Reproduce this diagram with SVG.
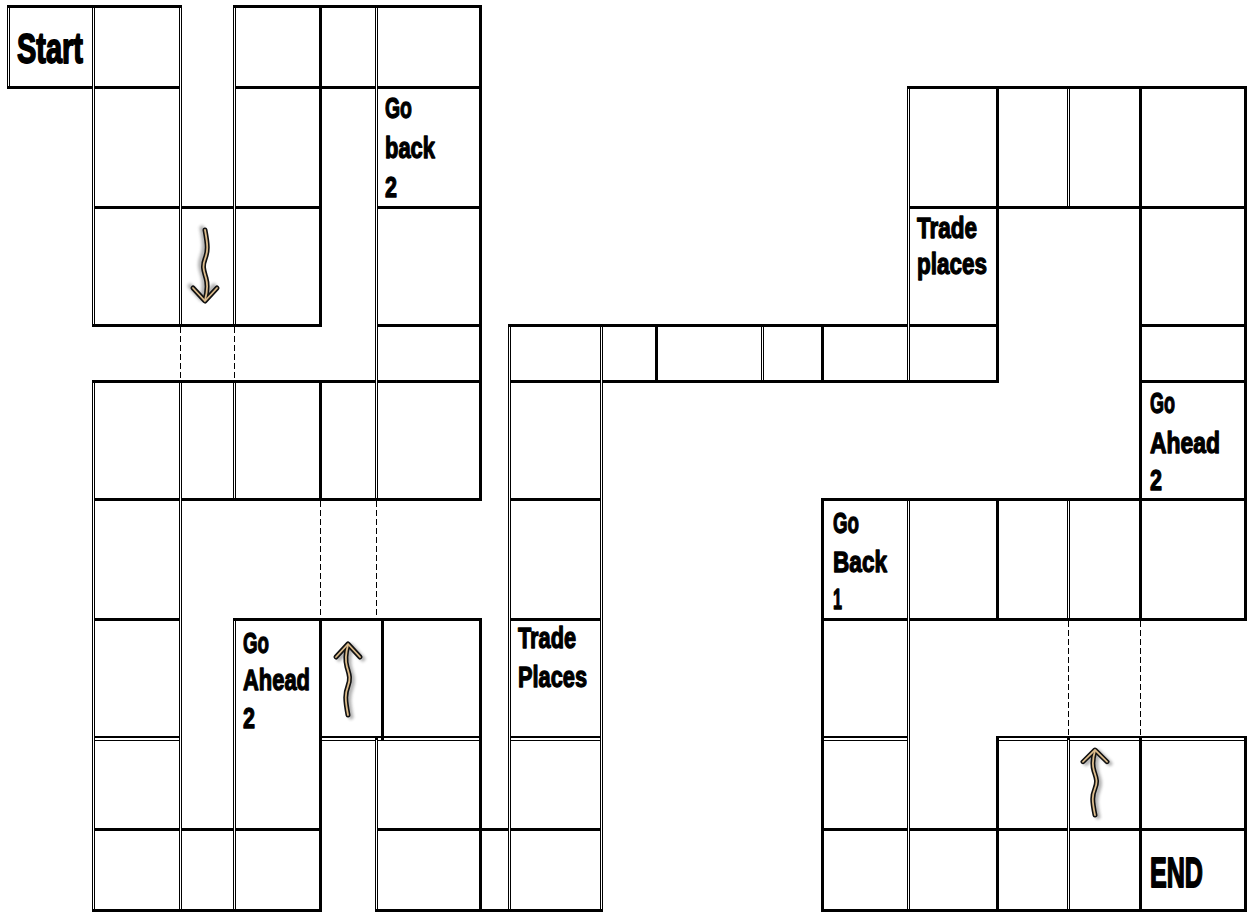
<svg xmlns="http://www.w3.org/2000/svg" xmlns:xlink="http://www.w3.org/1999/xlink" width="1249" height="914" viewBox="0 0 1249 914">
<style>
.thk{fill:none;stroke:#000;stroke-width:3}
.dblk{fill:none;stroke:#000;stroke-width:3}
.dbw{fill:none;stroke:#fff;stroke-width:1}
.dhk{fill:none;stroke:#000;stroke-width:4.5}
.dhw{fill:none;stroke:#fff;stroke-width:2}
.dash{fill:none;stroke:#000;stroke-width:1;stroke-dasharray:6 3}
.lbl{font-family:"Liberation Sans Narrow","Liberation Sans",Arial,sans-serif;font-weight:bold;font-size:30px;fill:#000;stroke:#000;stroke-width:1.3;stroke-linejoin:round}
.big{font-size:43px;stroke-width:1.8}
.aout{fill:none;stroke:#111;stroke-width:5;stroke-linecap:round;stroke-linejoin:round}
.ain{fill:none;stroke:#dcbc8c;stroke-width:1.8;stroke-linecap:round;stroke-linejoin:round}
.ash{fill:none;stroke:#555;stroke-width:5;stroke-linecap:round;stroke-linejoin:round}
</style>
<defs>
<filter id="blur" x="-50%" y="-50%" width="200%" height="200%"><feGaussianBlur stdDeviation="1.5"/></filter>
<g id="arrowUp">
<g transform="translate(3,2)" filter="url(#blur)" opacity="0.45"><path class="ash" d="M0,3 C-2,10 -3,18 -1,25 S3,36 0,44 S-3,57 0,73"/><path class="ash" d="M-12,15 L0,2 L12,15"/></g>
<path class="aout" d="M0,3 C-2,10 -3,18 -1,25 S3,36 0,44 S-3,57 0,73"/>
<path class="aout" d="M-12,15 L0,2 L12,15"/>
<path class="ain" d="M0,3 C-2,10 -3,18 -1,25 S3,36 0,44 S-3,57 0,73"/>
<path class="ain" d="M-12,15 L0,2 L12,15"/>
</g>
</defs>
<rect width="1249" height="914" fill="#fff"/>
<g id="grid" shape-rendering="crispEdges">
<path class="thk" d="M7,6H181.5 M232.5,6H481.5 M7,87H181.5 M232.5,87H481.5 M906.5,87H1246.5 M91.5,207H321.5 M374.5,207H481.5 M906.5,207H1246.5 M91.5,325H321.5 M374.5,325H481.5 M507.5,325H998.5 M1138.5,325H1246.5 M91.5,381H481.5 M507.5,381H998.5 M1138.5,381H1246.5 M91.5,499H481.5 M507.5,499H602.5 M820.5,499H1246.5 M91.5,619H181.5 M232.5,619H481.5 M507.5,619H602.5 M820.5,619H1246.5 M91.5,829H321.5 M374.5,829H602.5 M820.5,829H1246.5 M91.5,910H321.5 M374.5,910H602.5 M820.5,910H1246.5"/>
<path class="dhk" d="M91.5,738.5H181.5 M318.5,738.5H481.5 M507.5,738.5H602.5 M820.5,738.5H909.5 M995.5,738.5H1246.5"/>
<path class="dhw" d="M92,738.5H181 M319,738.5H481 M508,738.5H602 M821,738.5H909 M996,738.5H1246"/>
<path class="thk" d="M320,4.5V326.5 M320,379.5V500.5 M320,617.5V911.5 M382,617.5V740 M480,4.5V500.5 M480,617.5V911.5 M656,323.5V382.5 M822,323.5V382.5 M822,497.5V911.5 M997,85.5V382.5 M997,497.5V620.5 M997,737V911.5 M1140,85.5V620.5 M1140,737V911.5 M1245,85.5V620.5 M1245,737V911.5"/>
<path class="dblk" d="M8,4.5V88.5 M93,4.5V326.5 M93,379.5V911.5 M180,4.5V326.5 M180,379.5V911.5 M234,4.5V326.5 M234,379.5V500.5 M234,617.5V911.5 M376,4.5V500.5 M376,737V911.5 M509,323.5V911.5 M601,323.5V911.5 M762,323.5V382.5 M908,85.5V382.5 M908,497.5V911.5 M1068,85.5V208.5 M1068,497.5V620.5 M1068,737V911.5"/>
<path class="dbw" d="M8,7.5V85.5 M93,7.5V323.5 M93,382.5V908.5 M180,7.5V323.5 M180,382.5V908.5 M234,7.5V323.5 M234,382.5V497.5 M234,620.5V908.5 M376,7.5V497.5 M376,740V908.5 M509,326.5V908.5 M601,326.5V908.5 M762,326.5V379.5 M908,88.5V379.5 M908,500.5V908.5 M1068,88.5V205.5 M1068,500.5V617.5 M1068,740V908.5"/>
<path class="dash" d="M180,326.5V379.5 M234,326.5V379.5 M320,500.5V617.5 M376,500.5V617.5 M1068,620.5V737 M1140,620.5V737"/>
</g>
<g id="cell-start"><text class="lbl big" x="17" y="63" textLength="66" lengthAdjust="spacingAndGlyphs">Start</text></g>
<g id="cell-go-back-2">
<text class="lbl" x="385" y="118" textLength="27" lengthAdjust="spacingAndGlyphs">Go</text>
<text class="lbl" x="385" y="158" textLength="50" lengthAdjust="spacingAndGlyphs">back</text>
<text class="lbl" x="385" y="197" textLength="12" lengthAdjust="spacingAndGlyphs">2</text>
</g>
<g id="cell-trade-places-top">
<text class="lbl" x="917" y="238" textLength="60" lengthAdjust="spacingAndGlyphs">Trade</text>
<text class="lbl" x="917" y="274" textLength="70" lengthAdjust="spacingAndGlyphs">places</text>
</g>
<g id="cell-go-ahead-2-right">
<text class="lbl" x="1150" y="413" textLength="25" lengthAdjust="spacingAndGlyphs">Go</text>
<text class="lbl" x="1150" y="453" textLength="70" lengthAdjust="spacingAndGlyphs">Ahead</text>
<text class="lbl" x="1150" y="490" textLength="12" lengthAdjust="spacingAndGlyphs">2</text>
</g>
<g id="cell-go-back-1">
<text class="lbl" x="833" y="533" textLength="26" lengthAdjust="spacingAndGlyphs">Go</text>
<text class="lbl" x="833" y="572" textLength="54" lengthAdjust="spacingAndGlyphs">Back</text>
<text class="lbl" x="833" y="609" textLength="9" lengthAdjust="spacingAndGlyphs">1</text>
</g>
<g id="cell-go-ahead-2-left">
<text class="lbl" x="243" y="653" textLength="26" lengthAdjust="spacingAndGlyphs">Go</text>
<text class="lbl" x="243" y="690" textLength="67" lengthAdjust="spacingAndGlyphs">Ahead</text>
<text class="lbl" x="243" y="728" textLength="12" lengthAdjust="spacingAndGlyphs">2</text>
</g>
<g id="cell-trade-places-mid">
<text class="lbl" x="518" y="648" textLength="58" lengthAdjust="spacingAndGlyphs">Trade</text>
<text class="lbl" x="518" y="687" textLength="69" lengthAdjust="spacingAndGlyphs">Places</text>
</g>
<g id="cell-end"><text class="lbl big" x="1150" y="887" font-size="46" textLength="53" lengthAdjust="spacingAndGlyphs">END</text></g>
<g id="arrows">
<use href="#arrowUp" xlink:href="#arrowUp" transform="translate(205,303) rotate(180)"/>
<use href="#arrowUp" xlink:href="#arrowUp" transform="translate(348,642)"/>
<use href="#arrowUp" xlink:href="#arrowUp" transform="translate(1095,748) scale(1,0.92)"/>
</g>
</svg>
